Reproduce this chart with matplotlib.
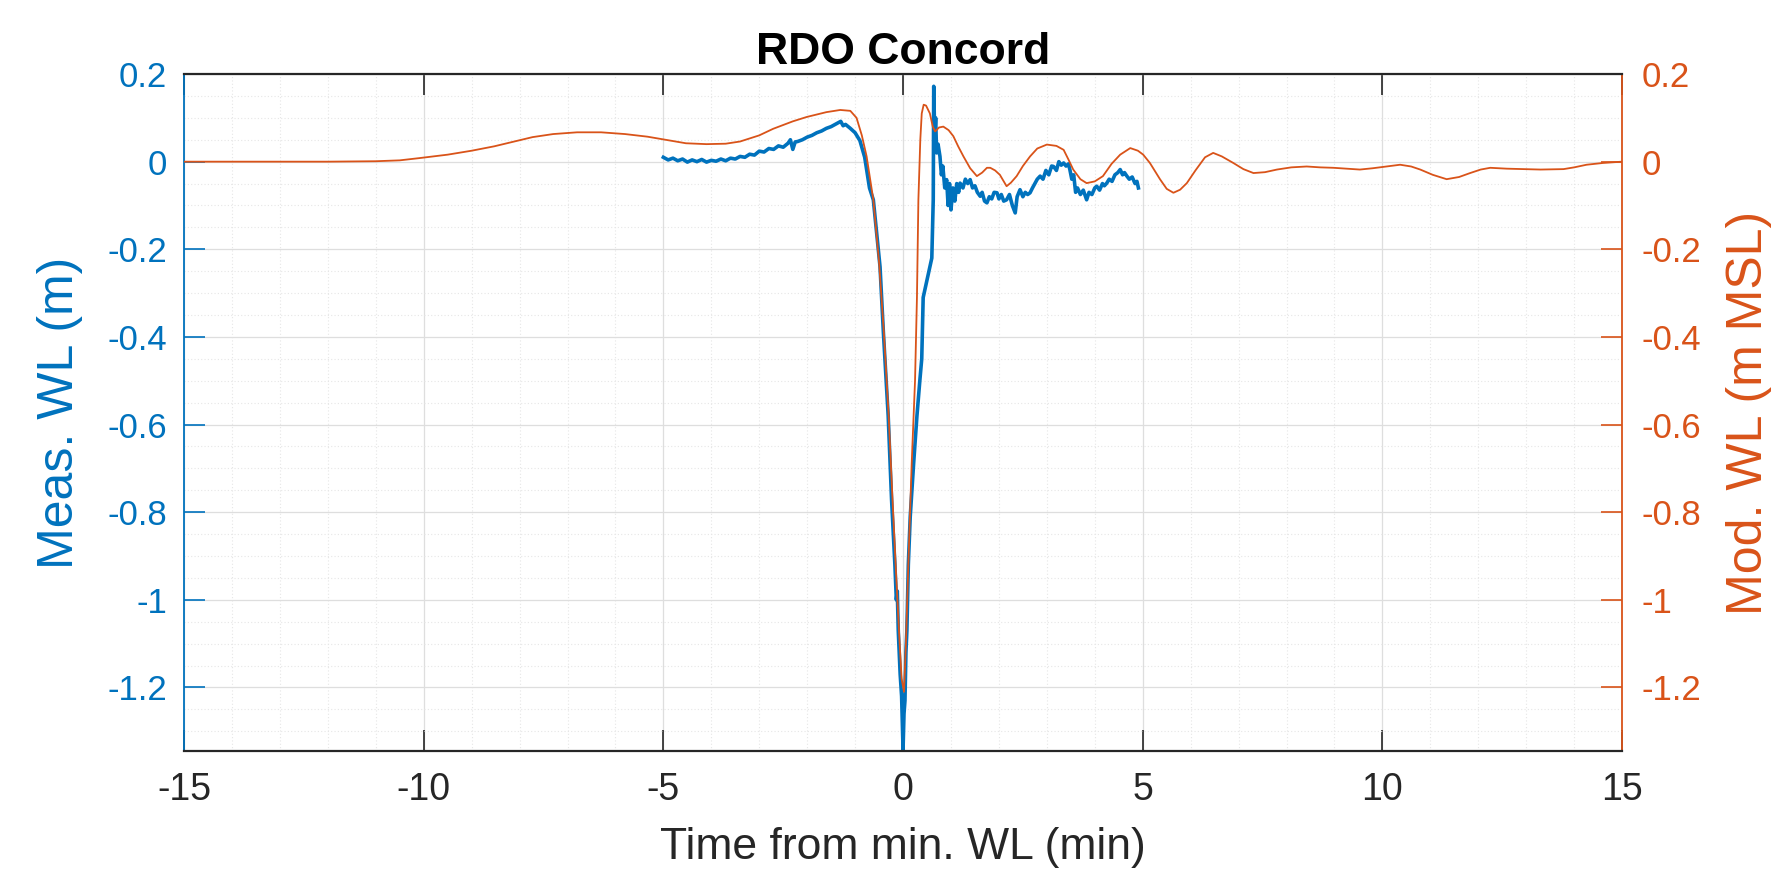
import matplotlib
matplotlib.use("Agg")
import matplotlib.pyplot as plt
from matplotlib.ticker import MultipleLocator

plt.rcParams['font.family'] = ['Liberation Sans', 'DejaVu Sans']

# ---------------- data ----------------
meas_t = [-5.0, -4.9, -4.8, -4.7, -4.6, -4.5, -4.4, -4.3, -4.2, -4.1, -4.0, -3.9, -3.8, -3.7,
          -3.6, -3.5, -3.4, -3.3, -3.2, -3.1, -3.0, -2.9, -2.8, -2.7, -2.6, -2.5, -2.4, -2.35,
          -2.3, -2.25, -2.2, -2.1, -2.0, -1.9, -1.8, -1.7, -1.6, -1.5, -1.4, -1.3, -1.25, -1.2,
          -1.1, -1.0, -0.9, -0.8, -0.7, -0.62, -0.48, -0.41, -0.31, -0.24, -0.17, -0.14, -0.12,
          -0.1, -0.06, -0.03, -0.01, 0.0, 0.02, 0.04, 0.06, 0.08, 0.11, 0.15, 0.22, 0.29, 0.35,
          0.39, 0.42, 0.5, 0.6, 0.63, 0.64, 0.66, 0.68, 0.70, 0.73, 0.77, 0.80, 0.83, 0.87, 0.91,
          0.94, 0.97, 1.0, 1.04, 1.08, 1.12, 1.16, 1.19, 1.25, 1.3, 1.35, 1.4, 1.45, 1.5, 1.55,
          1.61, 1.65, 1.7, 1.75, 1.8, 1.85, 1.9, 1.96, 2.0, 2.05, 2.1, 2.16, 2.22, 2.28, 2.34,
          2.38, 2.44, 2.5, 2.55, 2.6, 2.65, 2.7, 2.75, 2.8, 2.86, 2.92, 2.98, 3.04, 3.1, 3.14,
          3.2, 3.25, 3.3, 3.35, 3.4, 3.45, 3.48, 3.52, 3.56, 3.6, 3.64, 3.7, 3.76, 3.83, 3.88,
          3.94, 4.0, 4.04, 4.1, 4.16, 4.2, 4.25, 4.3, 4.36, 4.42, 4.48, 4.53, 4.58, 4.62, 4.67,
          4.72, 4.78, 4.84, 4.88, 4.91]
meas_wl = [0.010, 0.004, 0.008, 0.002, 0.006, -0.001, 0.004, 0.000, 0.005, -0.001, 0.003, 0.001,
           0.006, 0.002, 0.008, 0.006, 0.012, 0.010, 0.017, 0.015, 0.024, 0.022, 0.030, 0.028,
           0.036, 0.033, 0.042, 0.050, 0.028, 0.045, 0.046, 0.050, 0.056, 0.060, 0.066, 0.070,
           0.076, 0.080, 0.086, 0.092, 0.082, 0.085, 0.076, 0.066, 0.048, 0.010, -0.060, -0.087,
           -0.24, -0.39, -0.58, -0.77, -0.92, -1.00, -0.98, -1.07, -1.17, -1.22, -1.30, -1.342,
           -1.26, -1.23, -1.12, -1.07, -0.92, -0.81, -0.69, -0.58, -0.50, -0.45, -0.31, -0.27,
           -0.22, -0.087, 0.172, 0.06, 0.10, 0.02, 0.04, 0.012, -0.03, -0.01, -0.06, -0.041,
           -0.10, -0.05, -0.11, -0.06, -0.09, -0.05, -0.07, -0.049, -0.06, -0.04, -0.05, -0.041,
           -0.06, -0.055, -0.07, -0.079, -0.07, -0.09, -0.094, -0.08, -0.085, -0.07, -0.071,
           -0.085, -0.075, -0.09, -0.087, -0.075, -0.10, -0.117, -0.08, -0.064, -0.08, -0.07,
           -0.075, -0.071, -0.06, -0.05, -0.04, -0.033, -0.04, -0.02, -0.03, -0.01, -0.011,
           -0.02, 0.0, -0.008, -0.003, -0.01, -0.005, -0.018, -0.04, -0.03, -0.07, -0.06, -0.075,
           -0.065, -0.087, -0.07, -0.075, -0.06, -0.056, -0.065, -0.05, -0.055, -0.049, -0.04,
           -0.045, -0.03, -0.025, -0.018, -0.03, -0.025, -0.033, -0.04, -0.035, -0.05, -0.045,
           -0.06]

mod_t = [-15, -14, -13, -12, -11, -10.5, -10.1, -9.5, -9, -8.53, -8, -7.73, -7.3, -6.8, -6.3,
         -5.8, -5.33, -4.9, -4.53, -4.1, -3.7, -3.4, -3.0, -2.71, -2.3, -2.01, -1.6, -1.31, -1.1,
         -0.97, -0.86, -0.76, -0.62, -0.5, -0.4, -0.3, -0.22, -0.15, -0.08, -0.03, 0.02, 0.06,
         0.11, 0.18, 0.25, 0.29, 0.32, 0.36, 0.39, 0.43, 0.48, 0.56, 0.62, 0.67, 0.75, 0.84, 0.95,
         1.05, 1.15, 1.26, 1.4, 1.54, 1.65, 1.75, 1.82, 1.92, 2.02, 2.1, 2.16, 2.25, 2.37, 2.5,
         2.65, 2.8, 3.0, 3.2, 3.35, 3.45, 3.55, 3.7, 3.83, 4.0, 4.17, 4.35, 4.53, 4.74, 4.9, 5.01,
         5.15, 5.36, 5.5, 5.64, 5.78, 5.92, 6.1, 6.3, 6.47, 6.65, 6.89, 7.1, 7.31, 7.55, 7.8, 8.1,
         8.42, 8.7, 8.98, 9.25, 9.53, 9.8, 10.09, 10.37, 10.6, 10.79, 11.05, 11.34, 11.6, 11.83,
         12.05, 12.25, 12.6, 12.94, 13.3, 13.78, 14.0, 14.26, 14.6, 15.0]
mod_wl = [0.0, 0.0, 0.0, 0.0, 0.001, 0.003, 0.008, 0.016, 0.025, 0.035, 0.049, 0.056, 0.063,
          0.067, 0.067, 0.063, 0.057, 0.049, 0.042, 0.040, 0.041, 0.046, 0.060, 0.075, 0.092,
          0.102, 0.113, 0.118, 0.116, 0.100, 0.060, 0.012, -0.087, -0.23, -0.39, -0.58, -0.77,
          -0.93, -1.08, -1.18, -1.21, -1.10, -0.92, -0.69, -0.50, -0.31, -0.087, 0.05, 0.11,
          0.13, 0.128, 0.11, 0.08, 0.069, 0.078, 0.080, 0.072, 0.058, 0.035, 0.012, -0.015,
          -0.033, -0.025, -0.014, -0.014, -0.02, -0.030, -0.045, -0.056, -0.048, -0.033, -0.010,
          0.012, 0.030, 0.039, 0.036, 0.027, 0.005, -0.018, -0.040, -0.049, -0.045, -0.033,
          -0.005, 0.016, 0.031, 0.025, 0.016, -0.003, -0.040, -0.062, -0.071, -0.064, -0.049,
          -0.020, 0.010, 0.020, 0.012, -0.003, -0.017, -0.026, -0.024, -0.018, -0.013, -0.011,
          -0.013, -0.014, -0.016, -0.018, -0.015, -0.011, -0.007, -0.011, -0.018, -0.030, -0.040,
          -0.035, -0.026, -0.018, -0.014, -0.016, -0.017, -0.018, -0.017, -0.013, -0.007, -0.003,
          0.0]

x_ticks = [-15, -10, -5, 0, 5, 10, 15]
y_ticks = [-1.2, -1.0, -0.8, -0.6, -0.4, -0.2, 0.0, 0.2]
y_tick_labels = ['-1.2', '-1', '-0.8', '-0.6', '-0.4', '-0.2', '0', '0.2']

title = 'RDO Concord'
xlabel = 'Time from min. WL (min)'
ylabel_left = 'Meas. WL (m)'
ylabel_right = 'Mod. WL (m MSL)'

# ---------------- style ----------------
BLUE = '#0072BD'
ORANGE = '#D95319'
DARK = '#262626'
XTICK_FS = 27
YTICK_FS = 25
XLABEL_FS = 32
YLABEL_FS = 36
TITLE_FS = 32

fig = plt.figure(figsize=(17.78, 8.71), dpi=100)
ax = fig.add_axes([0.1035, 0.1378, 0.8088, 0.7772])
ax2 = ax.twinx()

ylim = (-1.345, 0.2)
xlim = (-15, 15)

ax.plot(meas_t, meas_wl, color=BLUE, lw=2.6, zorder=3)
ax2.plot(mod_t, mod_wl, color=ORANGE, lw=1.3, zorder=3)

for a in (ax, ax2):
    a.set_xlim(*xlim)
    a.set_ylim(*ylim)

ax.set_xticks(x_ticks)
ax.set_xticklabels([str(v) for v in x_ticks])
ax.xaxis.set_minor_locator(MultipleLocator(1))
ax.set_yticks(y_ticks)
ax.set_yticklabels(y_tick_labels)
ax.yaxis.set_minor_locator(MultipleLocator(0.05))
ax2.set_yticks(y_ticks)
ax2.set_yticklabels(y_tick_labels)

ax.grid(True, which='major', color='#dedede', lw=0.9)
ax.grid(True, which='minor', color='#e6e6e6', lw=0.8, ls=(0, (1, 2)))
ax.set_axisbelow(True)

ax.tick_params(axis='x', which='major', direction='in', length=15, width=1.2,
               colors=DARK, labelsize=XTICK_FS, pad=15, top=True)
ax.tick_params(axis='x', which='minor', length=0, top=False, bottom=False)
ax.tick_params(axis='y', which='major', direction='in', length=15, width=1.2,
               colors=BLUE, labelsize=YTICK_FS, pad=12)
ax.tick_params(axis='y', which='minor', length=0, left=False)
ax2.tick_params(axis='y', which='major', direction='in', length=15, width=1.2,
                colors=ORANGE, labelsize=YTICK_FS, pad=14)
ax2.tick_params(axis='y', which='minor', length=0)

for s in ('top', 'bottom'):
    ax2.spines[s].set_color(DARK)
    ax2.spines[s].set_linewidth(1.6)
ax2.spines['left'].set_color(BLUE)
ax2.spines['left'].set_linewidth(1.3)
ax2.spines['right'].set_color(ORANGE)
ax2.spines['right'].set_linewidth(1.3)
for s in ax.spines.values():
    s.set_visible(False)

ax.set_xlabel(xlabel, fontsize=XLABEL_FS, color=DARK)
ax.xaxis.set_label_coords(0.5, -0.112)
ax.set_ylabel(ylabel_left, fontsize=YLABEL_FS, color=BLUE)
ax.yaxis.set_label_coords(-0.07, 0.5)
ax2.set_ylabel(ylabel_right, fontsize=YLABEL_FS, color=ORANGE)
ax2.yaxis.set_label_coords(1.072, 0.5)
ax.set_title(title, fontsize=TITLE_FS, fontweight='bold', color='black', pad=7)

fig.savefig('out.png', dpi=100, facecolor='white')
